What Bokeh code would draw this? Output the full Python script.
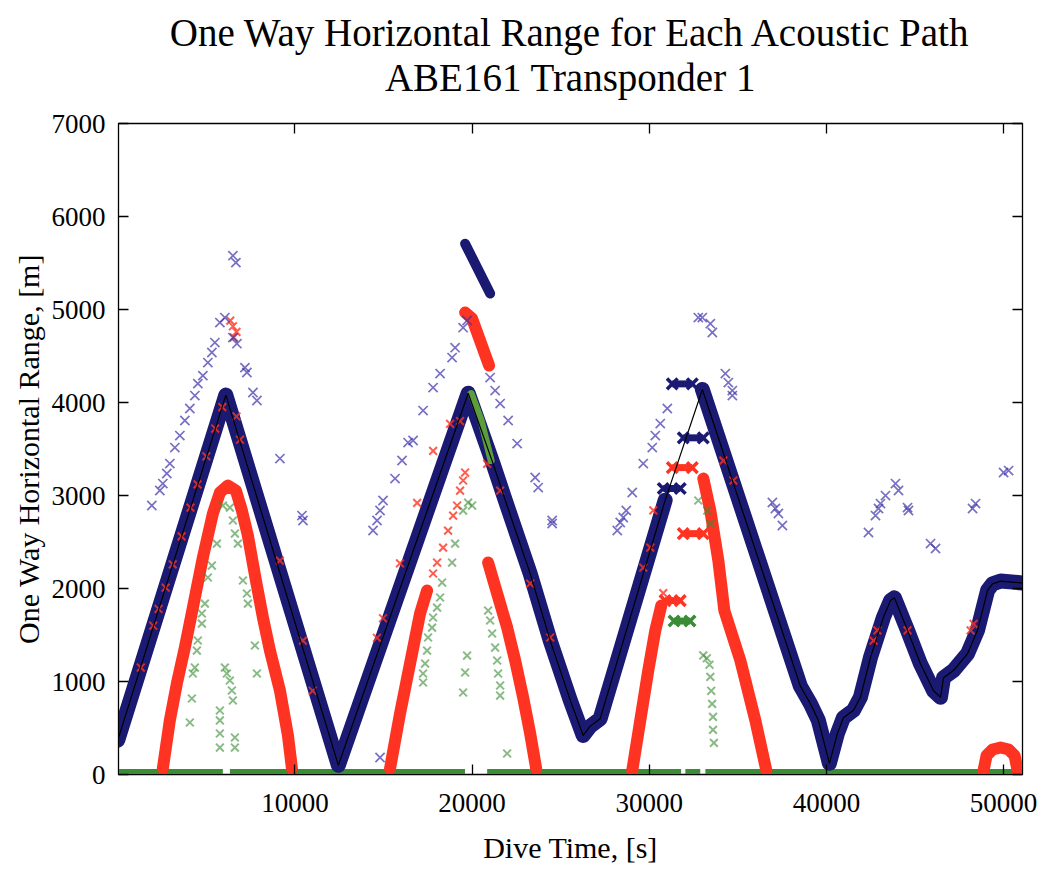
import math
from bokeh.plotting import figure
from bokeh.models import Range1d, LinearAxis, FixedTicker, Title
from bokeh.embed import file_html
from bokeh.resources import INLINE

NAN = float("nan")
FONT = "Liberation Serif"

# ---------------- data (time [s], range [m]) ----------------
x_ticks = [10000, 20000, 30000, 40000, 50000]
y_ticks = [0, 1000, 2000, 3000, 4000, 5000, 6000, 7000]

# direct path (dark blue band + thin black line)
direct_t = [0, 6100, 12450, 19780, 21190, 21870, 23280, 24410, 25540, 26270, 26670, 27230,
            30900, 33000, 38530, 39100, 39550, 40170, 40620, 40960, 41530, 41920, 42490,
            43220, 43620, 43840, 44580, 45310, 46050, 46440, 46610, 47180, 47970, 48530,
            49100, 49380, 49830, 51070]
direct_r = [370, 4080, 100, 4100, 3340, 2950, 2160, 1440, 800, 420, 520, 600,
            2950, 4140, 950, 760, 580, 120, 440, 610, 690, 830, 1260,
            1690, 1870, 1900, 1550, 1190, 900, 830, 1040, 1120, 1300, 1550,
            1980, 2050, 2080, 2060]
direct_gap_after = 30900   # band missing until the next point, black line only

# upper blue band near second peak
blue_top_t = [19606, 21018]
blue_top_r = [5708, 5171]

# red bands
red_arcs_t = [
    [2543, 2938, 3334, 3786, 4238, 4803, 5368, 5763, 6215, 6667, 7006, 7345, 7797, 8193, 8588, 9153, 9605, 9831],
    [15368, 15933, 16498, 17063, 17459],
    [20905, 21414, 21979, 22431, 22883, 23278, 23617],
    [19606, 20000, 20960],
    [29041, 29493, 29945, 30341, 30680],
    [33053, 33448, 33900, 34239, 35143, 35991, 36612],
    [48873, 49042, 49381, 49833, 50285, 50624, 50794],
]
red_arcs_r = [
    [65, 581, 978, 1365, 1795, 2333, 2806, 3032, 3107, 3053, 2838, 2569, 2086, 1688, 1333, 903, 419, 65],
    [65, 656, 1193, 1731, 1978],
    [2279, 1946, 1580, 1226, 828, 441, 65],
    [4967, 4902, 4397],
    [43, 581, 1118, 1548, 1817],
    [3182, 2838, 2301, 1763, 1226, 581, 43],
    [43, 204, 269, 290, 269, 204, 43],
]

# green band near second peak
green_top_t = [19945, 20510, 21075]
green_top_r = [4096, 3806, 3376]

# isolated red returns
red_t = [1300, 2000, 2300, 2700, 3100, 3600, 4100, 4500, 5000, 5500, 5900,
         6350, 6500, 6700, 6550, 6700, 6900, 9150, 10450, 11000,
         14630, 14970, 15930, 16900, 17800, 18760, 19320,
         17798, 18024, 18363, 18645, 18928, 19154, 19323, 19493, 19606,
         20850, 21583, 23278, 24408,
         29663, 30058, 30230, 30790, 34183, 34748,
         42660, 42880, 44580, 48140, 48310]
red_r = [1150, 1600, 1780, 2010, 2260, 2560, 2870, 3120, 3420, 3720, 3950,
         4880, 4820, 4760, 4700, 3850, 3600, 2300, 1440, 900,
         1470, 1680, 2270, 2920, 3480, 3770, 3800,
         2161, 2279, 2440, 2623, 2784, 2892, 3053, 3161, 3247,
         3340, 3053, 2053, 1473,
         2225, 2440, 2840, 1950, 3375, 3161,
         1440, 1550, 1550, 1550, 1620]

# short constant-range clusters near third peak: start time, end time, range
red_bar_t0 = [31300, 31920, 30900]
red_bar_t1 = [32430, 33050, 31750]
red_bar_r = [3300, 2590, 1870]
blue_bar_t0 = [31300, 31920, 30790]
blue_bar_t1 = [32430, 33050, 31750]
blue_bar_r = [4200, 3620, 3075]
green_bar_t0 = [31400]
green_bar_t1 = [32300]
green_bar_r = [1650]

# isolated blue returns
blue_t = [1921, 2373, 2543, 2769, 2938, 3221, 3503, 3786, 4068, 4351, 4520, 4803, 5085, 5311, 5481, 5763, 6046,
          6498, 6724, 7176, 7289, 7628, 7854, 9153, 10396, 10453, 6498, 6667,
          14408, 14634, 14803, 14973, 15651, 16046, 16385, 16668, 17233, 17798, 18193, 18871, 19041, 19493, 19719, 14803,
          21018, 21301, 21583, 22035, 22544, 23561, 23730, 24521, 24521,
          28194, 28363, 28533, 28702, 29041, 29663, 30171, 30341, 30623, 31019,
          32770, 32996, 33448, 33561, 34296, 34465, 34691, 34691,
          36951, 37121, 37290, 37516,
          42375, 42771, 42941, 43053, 43336, 43901, 44070, 44579, 44635, 45878, 46161,
          48251, 48421, 50003, 50285]
blue_r = [2892, 3053, 3128, 3236, 3343, 3515, 3644, 3806, 3935, 4074, 4203, 4289, 4429, 4537, 4644, 4859, 4913,
          4698, 4633, 4375, 4322, 4107, 4021, 3397, 2784, 2731, 5579, 5504,
          2623, 2731, 2838, 2946, 3182, 3376, 3569, 3591, 3913, 4160, 4311, 4483, 4590, 4805, 4881, 183,
          4268, 4128, 3988, 3806, 3558, 3193, 3085, 2731, 2698,
          2623, 2709, 2763, 2838, 3032, 3343, 3515, 3644, 3773, 3935,
          4913, 4913, 4848, 4752, 4311, 4214, 4128, 4074,
          2924, 2860, 2806, 2677,
          2602, 2784, 2860, 2913, 2999, 3128, 3053, 2870, 2838, 2483, 2430,
          2860, 2913, 3247, 3268]

# isolated green returns
green_t = [5933, 6328, 6498, 6611, 6780, 5594, 5311, 5085, 7063, 7289, 7345, 4916, 4746, 4746, 4520, 4464,
           4351, 4238, 7741, 7854, 4181, 4068, 6046, 6159, 6328, 6441, 6498, 5763, 5763, 5763, 5763, 6611, 6611,
           19775, 20001, 19493, 19041, 18871, 18306, 18193, 18024, 17798, 17741, 17515, 17459, 17346, 17233, 17233,
           19719, 19606, 19493, 20905, 21018, 21131, 21301, 21414, 21470, 21583, 21583, 21979,
           32770, 33278, 33448,
           33050, 33250, 33400, 33450, 33500, 33550, 33600, 33600, 33650]
green_r = [2892, 2870, 2731, 2591, 2483, 2483, 2247, 2118, 2086, 1946, 1838, 1838, 1731, 1623, 1441, 1333,
           1150, 1086, 1387, 1086, 817, 559, 1150, 1086, 1011, 903, 796, 688, 581, 441, 290, 398, 290,
           2924, 2892, 2838, 2483, 2279, 2064, 1903, 1795, 1688, 1580, 1473, 1333, 1193, 1086, 989,
           1279, 1097, 882, 1763, 1656, 1516, 1365, 1226, 1086, 957, 849, 226,
           2946, 2838, 2698,
           1280, 1250, 1180, 1050, 900, 760, 620, 480, 340]

# returns at zero range (bottom band): start / end time of each run
zero_start = [0, 6330, 20850, 32040, 33170]
zero_end = [5930, 19600, 31800, 32880, 51070]

title1 = "One Way Horizontal Range for Each Acoustic Path"
title2 = "ABE161 Transponder 1"
xlabel = "Dive Time, [s]"
ylabel = "One Way Horizontal Range, [m]"

# ---------------- figure ----------------
NAVY = "#1b1a72"
RED = "#ff3322"
GREEN = "#3a8c35"
SLATE = "#3f33a8"

p = figure(width=1040, height=866, output_backend="svg", toolbar_location=None,
           x_range=Range1d(40, 51070), y_range=Range1d(0, 7000),
           min_border_left=118, min_border_right=18, min_border_top=123, min_border_bottom=92)
p.background_fill_color = "white"
p.border_fill_color = "white"
p.outline_line_color = "black"
p.outline_line_width = 1.3
p.xgrid.visible = False
p.ygrid.visible = False
p.title = None

def style_axis(ax, ticks, labels=True):
    ax.ticker = FixedTicker(ticks=ticks)
    ax.major_tick_in = 10
    ax.major_tick_out = 0
    ax.minor_tick_line_color = None
    ax.axis_line_color = "black"
    ax.major_tick_line_color = "black"
    ax.major_tick_line_width = 1.3
    ax.major_label_text_font = FONT
    ax.major_label_text_color = "black"
    ax.axis_label_text_font = FONT
    ax.axis_label_text_font_style = "normal"
    ax.axis_label_text_color = "black"
    if labels:
        ax.major_label_text_font_size = "27px"
        ax.axis_label_text_font_size = "30px"
    else:
        ax.major_label_text_font_size = "1px"
        ax.major_label_text_color = None
        ax.major_label_standoff = 0

style_axis(p.xaxis[0], x_ticks)
style_axis(p.yaxis[0], y_ticks)
p.xaxis[0].axis_label = xlabel
p.yaxis[0].axis_label = ylabel
p.xaxis[0].major_label_standoff = 19
p.xaxis[0].axis_label_standoff = 16
p.yaxis[0].major_label_standoff = 13
p.yaxis[0].axis_label_standoff = 4

top_ax = LinearAxis()
style_axis(top_ax, x_ticks, labels=False)
p.add_layout(top_ax, "above")
right_ax = LinearAxis()
style_axis(right_ax, y_ticks, labels=False)
p.add_layout(right_ax, "right")

p.add_layout(Title(text=title2, align="center", text_font=FONT, text_font_size="39px",
                   text_font_style="normal", text_color="black", standoff=50), "above")
p.add_layout(Title(text=title1, align="center", text_font=FONT, text_font_size="39px",
                   text_font_style="normal", text_color="black", standoff=-50), "above")

# zero-range band
zt, zr = [], []
for a, b in zip(zero_start, zero_end):
    zt += [a, b, NAN]
    zr += [0, 0, NAN]
p.line(zt, zr, line_width=11, color=GREEN)

# direct path band (with gap)
band_t, band_r = [], []
for t, r in zip(direct_t, direct_r):
    band_t.append(t)
    band_r.append(r)
    if t == direct_gap_after:
        band_t.append(NAN)
        band_r.append(NAN)
p.line(band_t, band_r, line_width=15, color=NAVY, line_join="round", line_cap="round")
p.line(blue_top_t, blue_top_r, line_width=10, color=NAVY, line_cap="round")

# red bands
p.multi_line(red_arcs_t, red_arcs_r, line_width=12, color=RED, line_join="round", line_cap="round")
p.scatter(red_t, red_r, marker="x", size=11, line_width=2, color=RED, alpha=0.8)

# constant-range clusters (drawn as bow-tie groups of crosses)
def bars(t0, t1, r, color):
    p.segment(t0, r, t1, r, line_width=7, color=color)
    p.scatter(t0 + t1, r + r, marker="x", size=15, line_width=3.5, color=color)

bars(red_bar_t0, red_bar_t1, red_bar_r, RED)
bars(blue_bar_t0, blue_bar_t1, blue_bar_r, NAVY)
bars(green_bar_t0, green_bar_t1, green_bar_r, GREEN)

# green
p.line(green_top_t, green_top_r, line_width=7, color="#5c9e3c", line_cap="round")
p.scatter(green_t, green_r, marker="x", size=11, line_width=2, color=GREEN, alpha=0.6)

# isolated blue
p.scatter(blue_t, blue_r, marker="x", size=13, line_width=1.7, color=SLATE, alpha=0.7)

# thin black line on direct path
p.line(direct_t, direct_r, line_width=1.2, color="black")

open("out.html", "w").write(file_html(p, INLINE))
